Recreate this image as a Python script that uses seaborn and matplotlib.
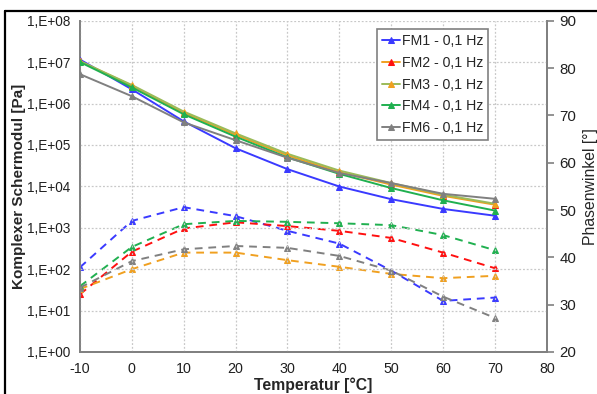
import numpy as np
import pandas as pd
import seaborn as sns
import matplotlib.pyplot as plt
from matplotlib.lines import Line2D
from matplotlib.ticker import FuncFormatter, FixedLocator

temperatur = [-10, 0, 10, 20, 30, 40, 50, 60, 70]
proben = ["FM1", "FM2", "FM3", "FM4", "FM6"]

# Komplexer Schermodul [Pa]
modul_fm1 = [1.15e7, 2.2e6, 3.7e5, 8.3e4, 2.6e4, 9.9e3, 4.9e3, 2.85e3, 1.95e3]
modul_fm2 = [1.05e7, 2.7e6, 6.0e5, 1.75e5, 5.6e4, 2.2e4, 1.1e4, 5.9e3, 3.6e3]
modul_fm3 = [1.05e7, 2.8e6, 6.4e5, 1.9e5, 6.1e4, 2.4e4, 1.2e4, 6.3e3, 3.8e3]
modul_fm4 = [1.0e7, 2.45e6, 5.5e5, 1.58e5, 5.0e4, 2.0e4, 9.1e3, 4.6e3, 2.6e3]
modul_fm6 = [5.1e6, 1.5e6, 3.5e5, 1.3e5, 4.9e4, 2.1e4, 1.2e4, 6.6e3, 5.0e3]

# Phasenwinkel [°]
phase_fm1 = [37.9, 47.7, 50.6, 48.7, 45.6, 42.9, 37.2, 30.8, 31.5]
phase_fm2 = [32.2, 41.2, 46.1, 47.4, 46.6, 45.6, 44.1, 41.0, 37.7]
phase_fm3 = [33.3, 37.5, 41.0, 41.0, 39.4, 38.0, 36.5, 35.6, 36.1]
phase_fm4 = [33.9, 42.2, 47.0, 47.7, 47.5, 47.2, 46.8, 44.7, 41.5]
phase_fm6 = [33.6, 39.2, 41.7, 42.4, 42.0, 40.3, 37.2, 31.7, 27.2]

moduln = [modul_fm1, modul_fm2, modul_fm3, modul_fm4, modul_fm6]
phasen = [phase_fm1, phase_fm2, phase_fm3, phase_fm4, phase_fm6]

marker_farben = ["#3a3aff", "#ff1010", "#f0a020", "#20b050", "#808080"]
linien_farben = ["#3a3aff", "#f0a020", "#9bbb59", "#20b050", "#808080"]

sns.set_theme(style="white")
plt.rcParams["font.family"] = ["Liberation Sans", "DejaVu Sans"]
plt.rcParams["axes.unicode_minus"] = False

fig, ax = plt.subplots(figsize=(5.97, 3.94), dpi=100)
fig.subplots_adjust(left=0.134, right=0.916, top=0.9475, bottom=0.1066)
ax2 = ax.twinx()

for name, mod, ph, mc, lc in zip(proben, moduln, phasen, marker_farben, linien_farben):
    df = pd.DataFrame({"T": temperatur, "G": mod, "phi": ph})
    sns.lineplot(data=df, x="T", y="G", ax=ax, color=lc, lw=1.4, marker="^",
                 markersize=5, markerfacecolor=mc, markeredgecolor=mc,
                 label=f"{name} - 0,1 Hz", zorder=3)
    sns.lineplot(data=df, x="T", y="phi", ax=ax2, color=mc, lw=1.4, ls=(0, (4, 3)),
                 marker="^", markersize=5, markerfacecolor=mc, markeredgecolor=mc,
                 legend=False, zorder=3)

ax.set_yscale("log")
ax.set_ylim(1, 1e8)
ax.set_xlim(-10, 80)
ax2.set_ylim(20, 90)
ax.set_xticks(range(-10, 81, 10))
ax.yaxis.set_major_locator(FixedLocator([10.0 ** k for k in range(0, 9)]))
ax.yaxis.set_minor_locator(FixedLocator([]))
ax.yaxis.set_major_formatter(FuncFormatter(lambda v, p: f"1,E{int(round(np.log10(v))):+03d}"))
ax2.set_yticks(range(20, 91, 10))

ax.grid(True, color="#c8c8c8", ls=(0, (1.5, 1.5)), lw=0.9)
ax2.grid(False)

for a in (ax, ax2):
    for s in a.spines.values():
        s.set_color("#808080")
        s.set_linewidth(1.3)
ax.spines["top"].set_visible(False)
ax2.spines["top"].set_visible(False)

ax.tick_params(axis="y", length=0, labelsize=9.8, colors="#202020", pad=7)
ax.tick_params(axis="x", length=0, labelsize=10.3, colors="#202020", pad=7)
ax2.tick_params(axis="y", length=5, width=1.2, color="#808080", labelsize=10.8,
                labelcolor="#202020", pad=4)

ax.set_xlabel("Temperatur [°C]", fontsize=11.3, fontweight="bold", labelpad=1)
ax.set_ylabel("Komplexer Schermodul [Pa]", fontsize=11, fontweight="bold", labelpad=1)
ax2.set_ylabel("Phasenwinkel [°]", fontsize=11.3, labelpad=5)

leg = ax.legend(loc="upper right", bbox_to_anchor=(0.874, 0.975), borderaxespad=0,
                fontsize=10.2, handlelength=1.3, handletextpad=0.1, labelspacing=0.55,
                fancybox=False, framealpha=1, edgecolor="#808080", borderpad=0.35)
leg.get_frame().set_linewidth(1.2)
ax.set_zorder(ax2.get_zorder() + 1)
ax.patch.set_visible(False)

# rahmen um die grafik
fig.add_artist(Line2D([0.008, 1.0], [0.973, 0.973], transform=fig.transFigure,
                      color="black", lw=1.6))
fig.add_artist(Line2D([0.008, 0.008], [0.0, 0.973], transform=fig.transFigure,
                      color="black", lw=1.6))

plt.savefig("out.png", dpi=100)
